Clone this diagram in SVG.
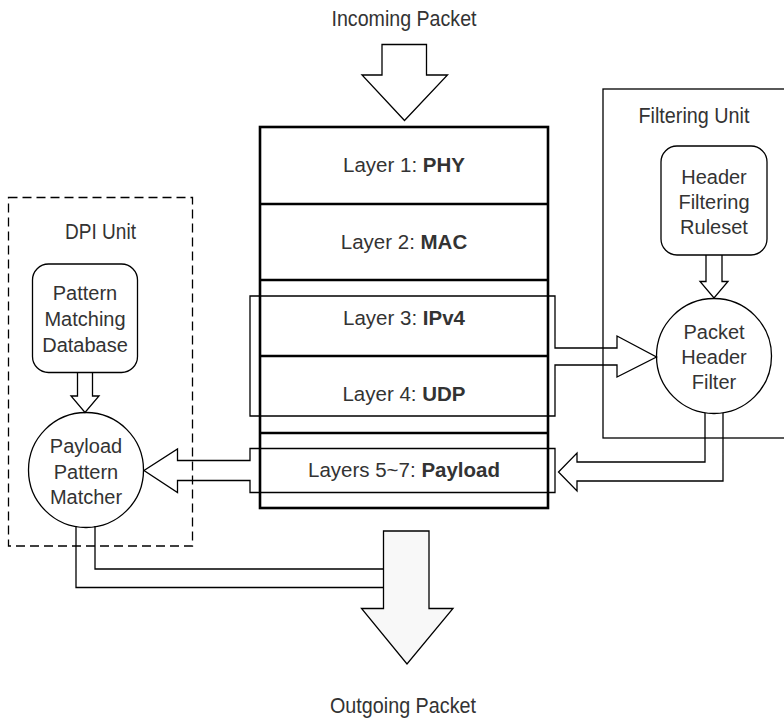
<svg xmlns="http://www.w3.org/2000/svg" width="784" height="720" viewBox="0 0 784 720">
  <style>
    .lbl { font-family: "Liberation Sans", Arial, sans-serif; fill: #333; text-anchor: middle; }
    .title { font-size: 22px; }
    .node { font-size: 20px; }
    .layer { font-size: 20.5px; }
    .layer b, .bold { font-weight: bold; }
    .thin { fill: none; stroke: #000; stroke-width: 1.3; }
    .thick { fill: none; stroke: #000; stroke-width: 2.6; }
    .box { fill: #fff; stroke: #000; stroke-width: 1.3; }
  </style>

  <!-- Group outlines -->
  <g id="filtering-unit">
    <rect x="603" y="89" width="190" height="349" class="thin"/>
    <text class="lbl title" x="694" y="123" font-size="20" textLength="111" lengthAdjust="spacingAndGlyphs">Filtering Unit</text>
  </g>
  <g id="dpi-unit">
    <rect x="8.5" y="197.5" width="184" height="348.5" class="thin" stroke-dasharray="9 5"/>
    <text class="lbl title" x="100.5" y="239" textLength="71" lengthAdjust="spacingAndGlyphs">DPI Unit</text>
  </g>

  <!-- Protocol stack -->
  <g id="stack">
    <rect x="260" y="127" width="288" height="381" class="thick"/>
    <line x1="260" y1="204" x2="548" y2="204" class="thick"/>
    <line x1="260" y1="280" x2="548" y2="280" class="thick"/>
    <line x1="260" y1="356" x2="548" y2="356" class="thick"/>
    <line x1="260" y1="433" x2="548" y2="433" class="thick"/>
  </g>
  <g id="layer1"><text class="lbl layer" x="404" y="172">Layer 1: <tspan font-weight="bold">PHY</tspan></text></g>
  <g id="layer2"><text class="lbl layer" x="404" y="248.5">Layer 2: <tspan font-weight="bold">MAC</tspan></text></g>
  <g id="layer3"><text class="lbl layer" x="404" y="324.5">Layer 3: <tspan font-weight="bold">IPv4</tspan></text></g>
  <g id="layer4"><text class="lbl layer" x="404" y="401">Layer 4: <tspan font-weight="bold">UDP</tspan></text></g>
  <g id="layer5-7"><text class="lbl layer" x="404" y="477">Layers 5~7: <tspan font-weight="bold">Payload</tspan></text></g>

  <!-- Nodes -->
  <g id="header-ruleset">
    <rect x="661" y="146" width="106" height="109" rx="16" class="box"/>
    <text class="lbl node" x="714" y="183.5">Header</text>
    <text class="lbl node" x="714" y="208.5">Filtering</text>
    <text class="lbl node" x="714" y="233.5">Ruleset</text>
  </g>
  <g id="packet-header-filter">
    <circle cx="714" cy="356" r="57.5" class="box"/>
    <text class="lbl node" x="714" y="338.5">Packet</text>
    <text class="lbl node" x="714" y="363.5">Header</text>
    <text class="lbl node" x="714" y="388.5">Filter</text>
  </g>
  <g id="pattern-database">
    <rect x="32.5" y="264" width="105" height="108.5" rx="16" class="box"/>
    <text class="lbl node" x="85" y="300">Pattern</text>
    <text class="lbl node" x="85" y="326">Matching</text>
    <text class="lbl node" x="85" y="352">Database</text>
  </g>
  <g id="payload-matcher">
    <circle cx="86" cy="470" r="57.5" class="box"/>
    <text class="lbl node" x="86" y="452.5">Payload</text>
    <text class="lbl node" x="86" y="478.5">Pattern</text>
    <text class="lbl node" x="86" y="503.5">Matcher</text>
  </g>

  <!-- Block-arrow connectors -->
  <g id="connectors">
    <!-- incoming packet -->
    <path d="M382,44.5 L426.5,44.5 L426.5,75 L447.5,75 L404.5,120.5 L362,75 L382,75 Z" class="box"/>
    <!-- layers 3-4 bracket to header filter -->
    <path d="M250,296 L555,296 L555,348 L617,348 L617,336 L656.5,357 L617,377 L617,365 L555,365 L555,416 L250,416 Z" class="thin"/>
    <!-- ruleset to header filter -->
    <path d="M706,255 L706,281.5 L700,281.5 L714,298 L728,281.5 L722,281.5 L722,255" class="thin"/>
    <!-- header filter to payload -->
    <path d="M705,413 L705,462 L577,462 L577,453 L558.5,472 L577,491 L577,481 L723,481 L723,413" class="thin"/>
    <!-- payload bracket to pattern matcher -->
    <path d="M555,448.5 L250,448.5 L250,460.5 L177.5,460.5 L177.5,449 L144,470.5 L177.5,492.5 L177.5,480.5 L250,480.5 L250,492.5 L555,492.5 Z" class="thin"/>
    <!-- database to pattern matcher -->
    <path d="M77.5,372.5 L77.5,396 L71,396 L85,412.5 L99,396 L92.5,396 L92.5,372.5" class="thin"/>
    <!-- pattern matcher to outgoing -->
    <path d="M95,526 L95,569 L383.5,569 M76,526 L76,587.5 L383.5,587.5" class="thin"/>
    <!-- outgoing packet -->
    <path d="M383.5,531 L429,531 L429,608.5 L453,608.5 L407,664 L361.5,608.5 L383.5,608.5 Z" fill="#f8f8f8" stroke="#000" stroke-width="1.3"/>
  </g>

  <g id="captions">
    <text class="lbl title" x="404" y="26" textLength="145" lengthAdjust="spacingAndGlyphs">Incoming Packet</text>
    <text class="lbl title" x="403" y="713" textLength="146" lengthAdjust="spacingAndGlyphs">Outgoing Packet</text>
  </g>
</svg>
